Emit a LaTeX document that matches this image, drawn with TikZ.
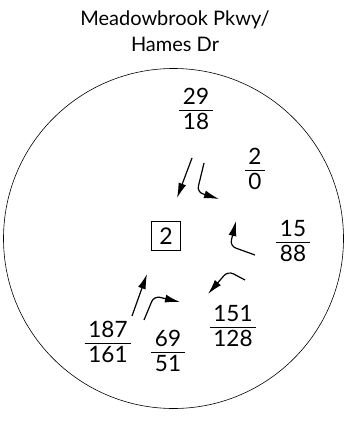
\documentclass[tikz,border=0pt]{standalone}
\usepackage{fontspec}
\setmainfont{Lato}
\usetikzlibrary{arrows.meta}
\setlength{\arrayrulewidth}{0.8pt}
\newcommand{\vol}[2]{\begin{tabular}{@{\,}c@{\,}}#1\\[-3pt]\hline\rule{0pt}{19pt}#2\end{tabular}}
\begin{document}
\begin{tikzpicture}[
    x=1pt, y=-1pt,
    every node/.style={font=\fontsize{20}{26}\selectfont},
    lbl/.style={inner sep=0pt, font=\fontsize{22.5}{27}\selectfont},
    phase/.style={draw, line width=0.5pt, inner sep=3pt, minimum size=29pt, font=\fontsize{23}{27}\selectfont},
    mov/.style={-{Latex[length=15pt,width=8pt]}, line width=1.2pt, rounded corners=6pt}
]
\useasboundingbox (0,0) rectangle (350,425);
\node[inner sep=0pt, align=center] (title) at (175,31) {Meadowbrook Pkwy/\\Hames Dr};
\draw[line width=0.6pt] (173.5,238.5) circle[radius=170];
\node[phase] (ph) at (166,236) {2};

% volumes
\node[lbl] (nb)  at (196,112) {\vol{29}{18}};
\node[lbl] (nr)  at (255,172) {\vol{2}{0}};
\node[lbl] (er)  at (293,244) {\vol{15}{88}};
\node[lbl] (el)  at (233,329) {\vol{151}{128}};
\node[lbl] (sb)  at (108,345) {\vol{187}{161}};
\node[lbl] (sr)  at (168,354) {\vol{69}{51}};

% movements
\coordinate (n1a) at (192,158); \coordinate (n1b) at (177,198);
\coordinate (n2a) at (204,163); \coordinate (n2c) at (197,192); \coordinate (n2b) at (219,199);
\coordinate (e1a) at (255,255); \coordinate (e1c) at (230,246); \coordinate (e1b) at (236,221);
\coordinate (e2a) at (245,280); \coordinate (e2c) at (228,271); \coordinate (e2b) at (208,294);
\coordinate (s1a) at (132,316); \coordinate (s1b) at (147,274);
\coordinate (s2a) at (144,320); \coordinate (s2c) at (154,296); \coordinate (s2b) at (180,302);

\draw[mov] (n1a) -- (n1b);
\draw[mov] (n2a) -- (n2c) -- (n2b);
\draw[mov] (e1a) -- (e1c) -- (e1b);
\draw[mov] (e2a) -- (e2c) -- (e2b);
\draw[mov] (s1a) -- (s1b);
\draw[mov] (s2a) -- (s2c) -- (s2b);
\end{tikzpicture}
\end{document}
